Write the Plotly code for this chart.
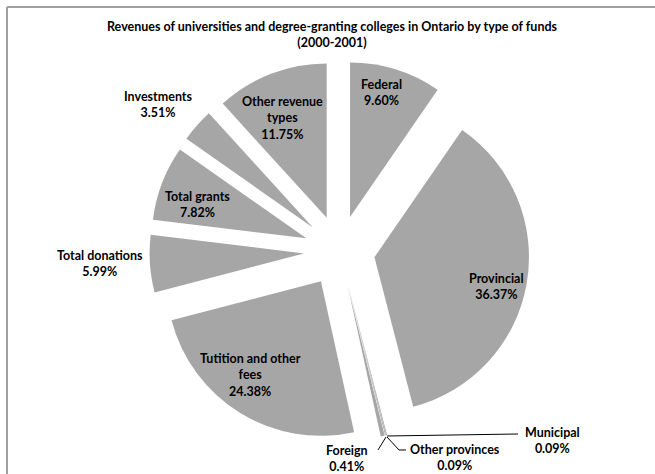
import plotly.graph_objects as go

# ---- data ----
categories = ["Federal", "Provincial", "Municipal", "Other provinces", "Foreign",
              "Tutition and other fees", "Total donations", "Total grants",
              "Investments", "Other revenue types"]
values = [9.60, 36.37, 0.09, 0.09, 0.41, 24.38, 5.99, 7.82, 3.51, 11.75]
label_lines = ["Federal", "Provincial", "Municipal", "Other provinces", "Foreign",
               "Tutition and other<br>fees", "Total donations", "Total grants",
               "Investments", "Other revenue<br>types"]
title_text = ("Revenues of universities and degree-granting colleges in Ontario by type of funds"
              "<br>(2000-2001)")

# ---- layout / style ----
W, H = 655, 474
FONT = "Lato"
SLICE = "#a6a6a6"
# label centre positions in pixels (layout only)
label_pos = [(381, 93), (497, 286), (552, 440), (455, 457), (347, 458),
             (250, 375), (100, 263), (197, 205), (158, 105), (282, 118)]

def px(x):
    return x / W

def py(y):
    return 1 - y / H

cx, cy, side = 339.5, 251, 380

fig = go.Figure(go.Pie(
    labels=categories,
    values=values,
    sort=False,
    direction="clockwise",
    rotation=0,
    pull=0.23,
    marker=dict(colors=[SLICE] * len(values), line=dict(width=0)),
    textinfo="none",
    hoverinfo="label+percent",
    showlegend=False,
    domain=dict(x=[px(cx - side / 2), px(cx + side / 2)],
                y=[py(cy + side / 2), py(cy - side / 2)]),
))

annotations = [dict(
    x=px(332), y=py(34), xref="paper", yref="paper", showarrow=False,
    text="<b>" + title_text + "</b>", font=dict(family=FONT, size=12.5, color="#000"),
    align="center", xanchor="center", yanchor="middle")]

for lab, v, (x, y) in zip(label_lines, values, label_pos):
    annotations.append(dict(
        x=px(x), y=py(y), xref="paper", yref="paper", showarrow=False,
        text="<b>%s<br>%.2f%%</b>" % (lab, v),
        font=dict(family=FONT, size=12.5, color="#000"),
        align="center", xanchor="center", yanchor="middle"))

shapes = [
    dict(type="line", xref="paper", yref="paper", x0=px(7), y0=py(7), x1=1, y1=py(7),
         line=dict(color="#a0a0a0", width=2)),
    dict(type="line", xref="paper", yref="paper", x0=px(7), y0=py(7), x1=px(7), y1=0,
         line=dict(color="#a0a0a0", width=2)),
    # leader lines
    dict(type="path", xref="paper", yref="paper",
         path="M %f,%f L %f,%f" % (px(387), py(436), px(518), py(434)),
         line=dict(color="#000", width=1)),
    dict(type="path", xref="paper", yref="paper",
         path="M %f,%f L %f,%f L %f,%f" % (px(387), py(437), px(399), py(450), px(406), py(450)),
         line=dict(color="#000", width=1)),
    dict(type="path", xref="paper", yref="paper",
         path="M %f,%f L %f,%f" % (px(386), py(437), px(378), py(450)),
         line=dict(color="#000", width=1)),
]

fig.update_layout(
    width=W, height=H, margin=dict(l=0, r=0, t=0, b=0),
    paper_bgcolor="white", plot_bgcolor="white",
    annotations=annotations, shapes=shapes,
)

fig.write_html("out.html")
